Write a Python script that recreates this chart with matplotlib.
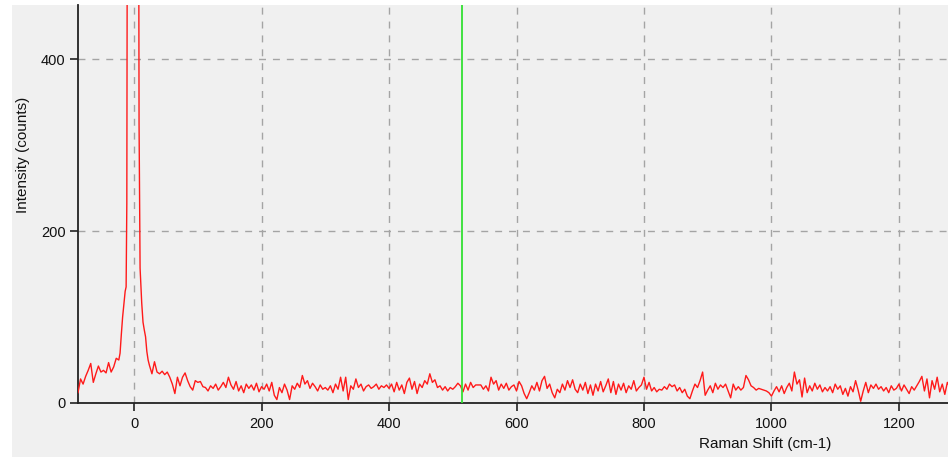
import numpy as np
import matplotlib
matplotlib.use("Agg")
import matplotlib.pyplot as plt
from matplotlib.patches import Rectangle

plt.rcParams['font.family'] = ['Liberation Sans', 'DejaVu Sans']

# ---- data ----
# left wing of the laser line, step 4 cm-1 from -88
left_start, left_step = -88, 4
left_counts = [12, 28, 22, 31, 38, 46, 24, 34, 43, 36, 38, 35, 47, 36, 42, 52, 50]

# laser (Rayleigh) line region
peak_shift = [-22, -20, -18, -16, -14, -12.5, -11.4, -10, -2, 5.8, 7.8, 9.4, 12, 14, 16, 18, 20, 22]
peak_counts = [58, 80, 100, 115, 130, 135, 232, 900, 3000, 1200, 325, 157, 116, 94, 85, 77, 60, 50]

# baseline, step 4 cm-1 from 24
base_start, base_step = 24, 4
base_counts = [
    44, 34, 48, 36, 34, 37, 33, 36, 30, 22, 11, 30, 20, 30, 35, 26, 19, 15, 26, 24, 25, 19,
    18, 14, 20, 17, 22, 15, 19, 24, 18, 30, 21, 16, 25, 14, 20, 12, 22, 17, 21, 15,
    23, 13, 19, 16, 22, 14, 24, 9, 4, 18, 12, 22, 15, 4, 20, 16, 23, 18, 32, 22,
    26, 17, 23, 19, 14, 21, 16, 18,
    15, 20, 12, 22, 16, 30, 14, 30, 4, 20, 16, 28, 18, 22, 14, 19, 21, 17, 19, 22,
    16, 20, 18, 21, 17, 22, 13, 24, 15, 21, 11, 24, 29, 16, 25, 11, 22, 18, 26, 22,
    34, 24, 27, 18, 20, 15, 19, 14, 18,
    16, 19, 23, 20, 13, 22, 15, 24, 18, 21, 21, 21, 16, 20, 14, 30, 22, 26, 15, 22,
    17, 23, 15, 19, 21, 14, 25, 20, 11, 5, 12, 20, 15, 24, 14, 26, 31, 17, 22, 12,
    6, 16, 12, 22, 15, 26, 18, 27, 16,
    12, 22, 15, 24, 11, 21, 9, 22, 14, 25, 13, 20, 28, 12, 25, 10, 22, 15, 23, 12,
    20, 16, 26, 14, 18, 21, 30, 16, 24, 14, 18, 13, 16, 15, 19, 16, 22, 19, 21, 14,
    18, 12, 16, 8, 5, 14, 22, 18, 26,
    36, 9, 15, 20, 12, 23, 16, 21, 18, 22, 14, 6, 22, 15, 19, 15, 18, 32, 27, 20,
    18, 15, 17, 16, 15, 14, 12, 8, 14, 19, 13, 20, 11, 18, 23, 14, 36, 22, 27, 7,
    29, 12, 20, 14, 23, 16, 21, 13, 18,
    14, 19, 12, 22, 16, 20, 10, 17, 8, 19, 13, 26, 15, 2, 14, 24, 12, 21, 17, 22,
    16, 19, 14, 18, 12, 20, 15, 17, 22, 14, 21, 16, 11, 19, 15, 20, 25, 31, 14, 28,
    6, 26, 16, 30, 13, 22, 10, 24, 18,
]

marker_shift = 514  # green cursor line

x_ticks = [0, 200, 400, 600, 800, 1000, 1200]
y_ticks = [0, 200, 400]
x_label = "Raman Shift (cm-1)"
y_label = "Intensity (counts)"

# ---- assemble ----
left_shift = left_start + left_step * np.arange(len(left_counts))
base_shift = base_start + base_step * np.arange(len(base_counts))
shift = np.concatenate([left_shift, peak_shift, base_shift])
counts = np.concatenate([left_counts, peak_counts, base_counts])

W, H = 948, 457
fig = plt.figure(figsize=(W / 100, H / 100), dpi=100)
fig.patch.set_facecolor('white')
bg = '#f0f0f0'
fig.patches.append(Rectangle((12 / W, 0), 1 - 12 / W, (H - 5) / H,
                             transform=fig.transFigure, facecolor=bg,
                             edgecolor='none', zorder=-10))

ax = fig.add_axes([78 / W, (H - 403) / H, (W - 78) / W, (403 - 5) / H])
ax.set_facecolor(bg)

ax.plot(shift, counts, color='#ff1a1a', lw=1.0, zorder=3)
ax.axvline(marker_shift, color='#33e033', lw=1.3, zorder=4)

ax.set_xlim(-88, 1277)
ax.set_ylim(0, 463)
ax.set_xticks(x_ticks)
ax.set_yticks(y_ticks)
ax.grid(True, color='#a4a4a4', linestyle=(0, (5, 5)), lw=1.0, zorder=1)
ax.set_axisbelow(True)

for s in ['top', 'right']:
    ax.spines[s].set_visible(False)
for s in ['left', 'bottom']:
    ax.spines[s].set_color('#222222')
    ax.spines[s].set_linewidth(1.3)

ax.tick_params(axis='both', direction='out', length=6, width=1.2,
               color='#222222', labelsize=10.5, labelcolor='#111111')
ax.tick_params(axis='x', pad=4)
ax.tick_params(axis='y', pad=3)

ax.set_xlabel(x_label, fontsize=11, color='#111111')
ax.set_ylabel(y_label, fontsize=11, color='#111111')
ax.xaxis.set_label_coords((765 - 78) / 870, (403 - 437) / 398)
ax.yaxis.label.set_verticalalignment('center')
ax.yaxis.set_label_coords((23 - 78) / 870, (403 - 155) / 398)

fig.savefig('out.png', dpi=100, facecolor=fig.get_facecolor())
